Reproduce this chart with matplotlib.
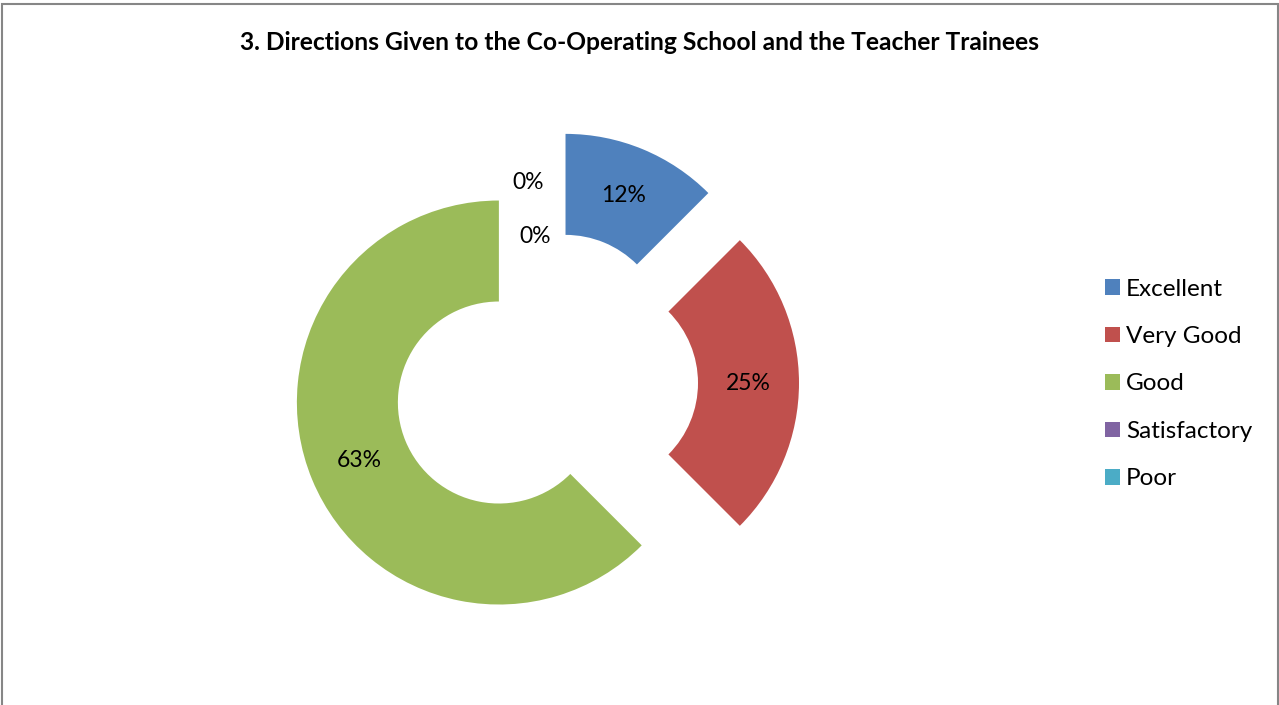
import matplotlib.pyplot as plt
from matplotlib.patches import Rectangle
import numpy as np

plt.rcParams['font.family'] = ['Lato', 'DejaVu Sans']

# data
categories = ['Excellent', 'Very Good', 'Good', 'Satisfactory', 'Poor']
values = [12.5, 25, 62.5, 0, 0]
pct_labels = ['12%', '25%', '63%', '0%', '0%']
colors = ['#4F81BD', '#C0504D', '#9BBB59', '#8064A2', '#4BACC6']

title = '3. Directions Given to the Co-Operating School and the Teacher Trainees'

W, H = 1279, 705
fig = plt.figure(figsize=(W / 100, H / 100), dpi=100)
ax = fig.add_axes([0, 0, 1, 1])

R = 202
# explode is given in data units here (axes are in pixels)
wedges, _ = ax.pie(values, colors=colors, radius=R, center=(546, 322),
                   explode=[51] * len(values), startangle=90,
                   counterclock=False, wedgeprops=dict(width=R * 0.5, linewidth=0),
                   normalize=True)
ax.set_xlim(0, W)
ax.set_ylim(0, H)
ax.set_aspect('equal')
ax.axis('off')

# percent labels in the middle of the ring
nudges = {3: (-18, -2), 4: (-11, -56)}
for i, (w, lab) in enumerate(zip(wedges, pct_labels)):
    th = np.deg2rad((w.theta1 + w.theta2) / 2)
    cx, cy = w.center
    x = cx + 0.75 * R * np.cos(th)
    y = cy + 0.75 * R * np.sin(th)
    dx, dy = nudges.get(i, (0, 0))
    ax.text(x + dx, y + dy, lab, ha='center', va='center', fontsize=16.5, color='black')

fig.text(0.5, 1 - 43 / H, title, ha='center', va='center', fontsize=17.7,
         fontweight='bold')

leg = ax.legend(wedges, categories, loc='center left',
                bbox_to_anchor=(1093 / W, (H - 384) / H), bbox_transform=fig.transFigure,
                frameon=False, fontsize=17.5, handlelength=0.6, handleheight=0.6,
                handletextpad=0.25, labelspacing=1.09, borderpad=0)

# chart border
fig.add_artist(Rectangle((1.5 / W, -0.01), (W - 3) / W, 1.01 - 4 / H,
                         transform=fig.transFigure, fill=False,
                         edgecolor='#868686', linewidth=1.5))

fig.savefig('out.png', dpi=100, facecolor='white')
